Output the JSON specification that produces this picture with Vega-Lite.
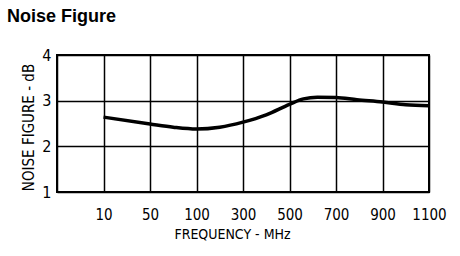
{
  "$schema": "https://vega.github.io/schema/vega-lite/v6.json",
  "width": 372,
  "height": 137,
  "autosize": "none",
  "padding": {"left": 57, "top": 55, "right": 31, "bottom": 64},
  "background": "white",
  "title": {
    "text": "Noise Figure",
    "anchor": "start",
    "frame": "group",
    "dx": -50,
    "offset": 21,
    "fontSize": 18,
    "fontWeight": "bold",
    "font": "Liberation Sans",
    "color": "black"
  },
  "config": {
    "view": {"stroke": "black", "strokeWidth": 2},
    "axis": {
      "labelFont": "Liberation Sans Narrow, DejaVu Sans Condensed",
      "titleFont": "Liberation Sans Narrow, DejaVu Sans Condensed",
      "labelColor": "black",
      "titleColor": "black",
      "grid": true,
      "gridColor": "black",
      "gridWidth": 1.5,
      "gridOpacity": 1,
      "ticks": false,
      "domain": false,
      "labelOverlap": false,
      "labelFlush": false
    }
  },
  "data": {
    "values": [
      {"pos": 1, "freq": 10, "nf": 2.64},
      {"pos": 2, "freq": 50, "nf": 2.49},
      {"pos": 2.5, "nf": 2.42},
      {"pos": 3, "freq": 100, "nf": 2.38},
      {"pos": 3.5, "nf": 2.42},
      {"pos": 4, "freq": 300, "nf": 2.53},
      {"pos": 4.5, "nf": 2.69},
      {"pos": 5, "freq": 500, "nf": 2.92},
      {"pos": 5.3, "nf": 3.04},
      {"pos": 5.6, "nf": 3.075},
      {"pos": 6, "freq": 700, "nf": 3.07},
      {"pos": 6.45, "nf": 3.02},
      {"pos": 7, "freq": 900, "nf": 2.97},
      {"pos": 7.5, "nf": 2.91},
      {"pos": 8, "freq": 1100, "nf": 2.89}
    ]
  },
  "mark": {"type": "line", "interpolate": "monotone", "color": "black", "strokeWidth": 3.5},
  "encoding": {
    "x": {
      "field": "pos",
      "type": "quantitative",
      "scale": {"domain": [0, 8], "nice": false, "zero": false},
      "axis": {
        "values": [0, 1, 2, 3, 4, 5, 6, 7, 8],
        "labelExpr": "['','10','50','100','300','500','700','900','1100'][datum.value]",
        "title": "FREQUENCY - MHz",
        "labelFontSize": 15,
        "labelPadding": 15,
        "titleFontSize": 14,
        "titleFontWeight": "normal",
        "titlePadding": 5,
        "titleX": 175
      }
    },
    "y": {
      "field": "nf",
      "type": "quantitative",
      "scale": {"domain": [1, 4], "nice": false, "zero": false},
      "axis": {
        "values": [1, 2, 3, 4],
        "title": "NOISE FIGURE - dB",
        "labelFontSize": 16,
        "labelPadding": 6,
        "titleFontSize": 15,
        "titleFontWeight": "normal",
        "titlePadding": 5,
        "titleY": 72
      }
    }
  }
}
